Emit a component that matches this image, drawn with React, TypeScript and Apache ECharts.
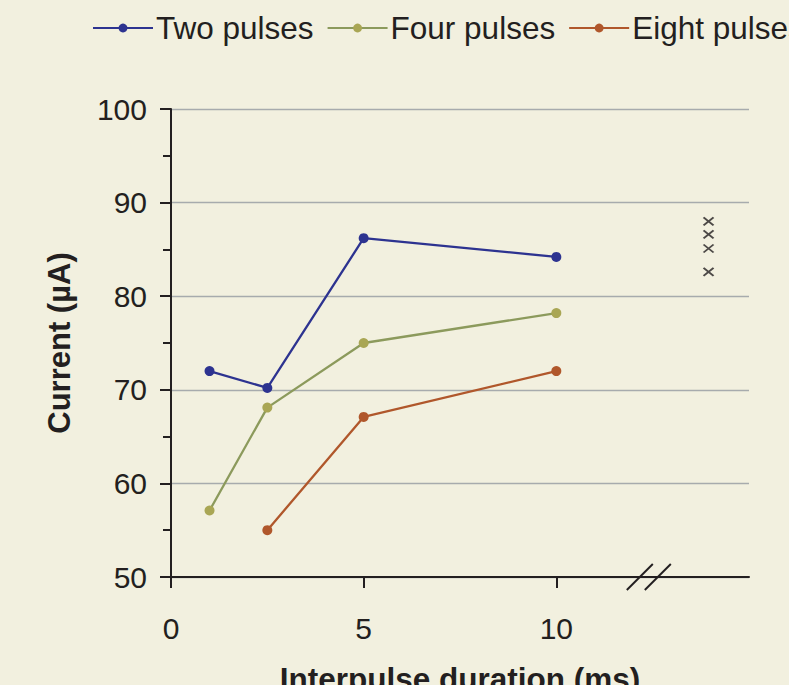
import React, { useEffect, useRef } from "react";
import * as echarts from "echarts";

// Interpulse duration (ms) on the x axis, threshold current (µA) on the y axis
const twoPulses: [number, number][] = [
  [1, 72.0],
  [2.5, 70.2],
  [5, 86.2],
  [10, 84.2],
];
const fourPulses: [number, number][] = [
  [1, 57.1],
  [2.5, 68.1],
  [5, 75.0],
  [10, 78.2],
];
const eightPulses: [number, number][] = [
  [2.5, 55.0],
  [5, 67.1],
  [10, 72.0],
];
// Separate readings shown past the axis break
const extraReadings: [number, number][] = [
  [13.95, 88.0],
  [13.95, 86.6],
  [13.95, 85.1],
  [13.95, 82.6],
];
const axisBreakAt: [number, number][] = [[12.4, 50]];

const seriesNames = ["Two pulses", "Four pulses", "Eight pulses"];
const xTickValues = [0, 5, 10];
const X_MIN = 0;
const X_MAX = 15;
const Y_MIN = 50;
const Y_MAX = 100;
const Y_STEP = 10;

const FONT = "'Liberation Sans', Arial, Helvetica, sans-serif";
const INK = "#231f20";

export default function App() {
  const ref = useRef<HTMLDivElement>(null);

  useEffect(() => {
    document.body.style.margin = "0";
    if (!ref.current) return;
    const chart = echarts.init(ref.current, null, { renderer: "svg" });

    const lineSeries = (
      name: string,
      data: [number, number][],
      lineColor: string,
      dotColor: string
    ) => ({
      name,
      type: "line",
      data,
      symbol: "circle",
      symbolSize: 10,
      lineStyle: { color: lineColor, width: 2.3 },
      itemStyle: { color: dotColor },
      z: 3,
    });

    chart.setOption({
      animation: false,
      backgroundColor: "#f2f0df",
      textStyle: { fontFamily: FONT, color: INK },
      legend: {
        data: seriesNames,
        left: 92,
        top: 12,
        padding: 0,
        width: 1200,
        itemWidth: 60,
        itemHeight: 11,
        itemGap: 13,
        textStyle: { fontSize: 31.5, color: INK, fontFamily: FONT, padding: [0, 0, 0, -2] },
      },
      grid: { left: 171, right: 40, top: 109, bottom: 108, outerBoundsMode: "none" },
      xAxis: {
        type: "value",
        min: X_MIN,
        max: X_MAX,
        interval: 5,
        name: "Interpulse duration (ms)",
        nameLocation: "middle",
        nameGap: 86,
        nameTextStyle: { fontSize: 31.5, fontWeight: "bold", color: INK, fontFamily: FONT },
        axisLine: { show: true, lineStyle: { color: INK, width: 2 } },
        axisTick: {
          show: true,
          inside: false,
          length: 11,
          customValues: xTickValues,
          lineStyle: { color: INK, width: 2 },
        },
        axisLabel: {
          customValues: xTickValues,
          fontSize: 30,
          color: INK,
          margin: 36,
          fontFamily: FONT,
        },
        splitLine: { show: false },
      },
      yAxis: {
        type: "value",
        min: Y_MIN,
        max: Y_MAX,
        interval: Y_STEP,
        name: "Current (µA)",
        nameLocation: "middle",
        nameGap: 96,
        nameTextStyle: { fontSize: 31, fontWeight: "bold", color: INK, fontFamily: FONT },
        axisLine: { show: true, lineStyle: { color: INK, width: 2 } },
        axisTick: { show: true, inside: false, length: 11, lineStyle: { color: INK, width: 2 } },
        minorTick: { show: true, splitNumber: 2, length: 8, lineStyle: { color: INK, width: 2 } },
        axisLabel: { fontSize: 30, color: INK, margin: 24, fontFamily: FONT },
        splitLine: { show: true, lineStyle: { color: "#a7abad", width: 1.3 } },
      },
      series: [
        lineSeries(seriesNames[0], twoPulses, "#2d3390", "#2d3390"),
        lineSeries(seriesNames[1], fourPulses, "#8c9a5c", "#a9a654"),
        lineSeries(seriesNames[2], eightPulses, "#b0572b", "#b0572b"),
        {
          name: "extra",
          type: "scatter",
          data: extraReadings,
          symbol: "path://M0,0L10,8M10,0L0,8",
          symbolSize: [10, 8],
          itemStyle: { color: "transparent", borderColor: INK, borderWidth: 1.8 },
          z: 4,
        },
        {
          name: "break",
          type: "custom",
          data: axisBreakAt,
          clip: false,
          z: 5,
          renderItem: (_params: any, api: any) => {
            const p = api.coord([api.value(0), api.value(1)]);
            return {
              type: "group",
              children: [-9, 9].map((dx) => ({
                type: "line",
                shape: {
                  x1: p[0] + dx - 13,
                  y1: p[1] + 13,
                  x2: p[0] + dx + 13,
                  y2: p[1] - 13,
                },
                style: { stroke: INK, lineWidth: 2 },
              })),
            };
          },
        },
      ],
    });

    return () => chart.dispose();
  }, []);

  return (
    <div
      ref={ref}
      style={{ position: "absolute", left: 0, top: 0, width: 789, height: 685 }}
    />
  );
}
